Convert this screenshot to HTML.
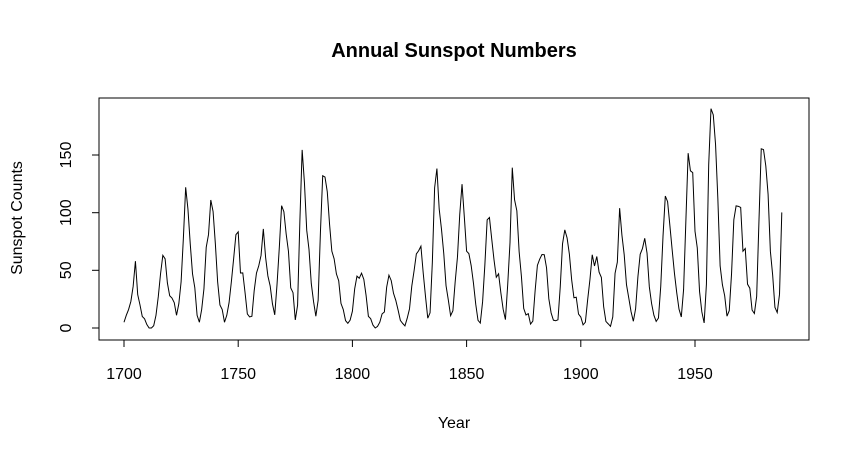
<!DOCTYPE html>
<html><head><meta charset="utf-8"><style>
html,body{margin:0;padding:0;background:#fff;}
svg{display:block;font-family:"Liberation Sans",Arial,sans-serif;}
</style></head><body>
<svg id="s" width="860" height="460" xmlns="http://www.w3.org/2000/svg">
<rect width="860" height="460" fill="#fff"/>
<text x="454" y="57" font-size="20" font-weight="bold" text-anchor="middle">Annual Sunspot Numbers</text>
<rect x="99" y="98" width="710" height="242" fill="none" stroke="#000" stroke-width="1"/>
<g stroke="#000" stroke-width="1">
<line x1="124" y1="340" x2="695" y2="340"/>
<line x1="124" y1="340" x2="124" y2="347"/>
<line x1="238.2" y1="340" x2="238.2" y2="347"/>
<line x1="352.4" y1="340" x2="352.4" y2="347"/>
<line x1="466.6" y1="340" x2="466.6" y2="347"/>
<line x1="580.8" y1="340" x2="580.8" y2="347"/>
<line x1="695" y1="340" x2="695" y2="347"/>
<line x1="99" y1="328" x2="99" y2="155"/>
<line x1="99" y1="328" x2="92" y2="328"/>
<line x1="99" y1="270.3" x2="92" y2="270.3"/>
<line x1="99" y1="212.7" x2="92" y2="212.7"/>
<line x1="99" y1="155" x2="92" y2="155"/>
</g>
<g font-size="16" text-anchor="middle">
<text x="124" y="379">1700</text><text x="238.2" y="379">1750</text><text x="352.4" y="379">1800</text>
<text x="466.6" y="379">1850</text><text x="580.8" y="379">1900</text><text x="695" y="379">1950</text>
<text transform="translate(71,328) rotate(-90)">0</text>
<text transform="translate(71,270.3) rotate(-90)">50</text>
<text transform="translate(71,212.7) rotate(-90)">100</text>
<text transform="translate(71,155) rotate(-90)">150</text>
<text x="454" y="428">Year</text>
<text transform="translate(22,218) rotate(-90)">Sunspot Counts</text>
</g>
<polyline id="p" fill="none" stroke="#000" stroke-width="1" points=""/>
</svg>
<script>
var d=[5,11,16,23,36,58,29,20,10,8,3,0,0,2,11,27,47,63,60,39,28,26,22,11,21,40,78,122,103,73,47,35,11,5,16,34,70,81,111,101,73,40,20,16,5,11,22,40,60,80.9,83.4,47.7,47.8,30.7,12.2,9.6,10.2,32.4,47.6,54,62.9,85.9,61.2,45.1,36.4,20.9,11.4,37.8,69.8,106.1,100.8,81.6,66.5,34.8,30.6,7,19.8,92.5,154.4,125.9,84.8,68.1,38.5,22.8,10.2,24.1,82.9,132,130.9,118.1,89.9,66.6,60,46.9,41,21.3,16,6.4,4.1,6.8,14.5,34,45,43.1,47.5,42.2,28.1,10.1,8.1,2.5,0,1.4,5,12.2,13.9,35.4,45.8,41.1,30.1,23.9,15.6,6.6,4,1.8,8.5,16.6,36.3,49.6,64.2,67,70.9,47.8,27.5,8.5,13.2,56.9,121.5,138.3,103.2,85.7,64.6,36.7,24.2,10.7,15,40.1,61.5,98.5,124.7,96.3,66.6,64.5,54.1,39,20.6,6.7,4.3,22.7,54.8,93.8,95.8,77.2,59.1,44,47,30.5,16.3,7.3,37.6,74,139,111.2,101.6,66.2,44.7,17,11.3,12.4,3.4,6,32.3,54.3,59.7,63.7,63.5,52.2,25.4,13.1,6.8,6.3,7.1,35.6,73,85.1,78,64,41.8,26.2,26.7,12.1,9.5,2.7,5,24.4,42,63.5,53.8,62,48.5,43.9,18.6,5.7,3.6,1.4,9.6,47.4,57.1,103.9,80.6,63.6,37.6,26.1,14.2,5.8,16.7,44.3,63.9,69,77.8,64.9,35.7,21.2,11.1,5.7,8.7,36.1,79.7,114.4,109.6,88.8,67.8,47.5,30.6,16.3,9.6,33.2,92.6,151.6,136.3,134.7,83.9,69.4,31.5,13.9,4.4,38,141.7,190.2,184.8,159,112.3,53.9,37.5,27.9,10.2,15.1,47,93.8,105.9,105.5,104.5,66.6,68.9,38,34.5,15.5,12.6,27.5,92.5,155.4,154.7,140.5,115.9,66.6,45.9,17.9,13.4,29.2,100.2];
var pts=d.map(function(v,i){return (124+i*2.284).toFixed(2)+","+(328-v*1.1533).toFixed(2);}).join(" ");
document.getElementById("p").setAttribute("points",pts);
</script>
</body></html>
